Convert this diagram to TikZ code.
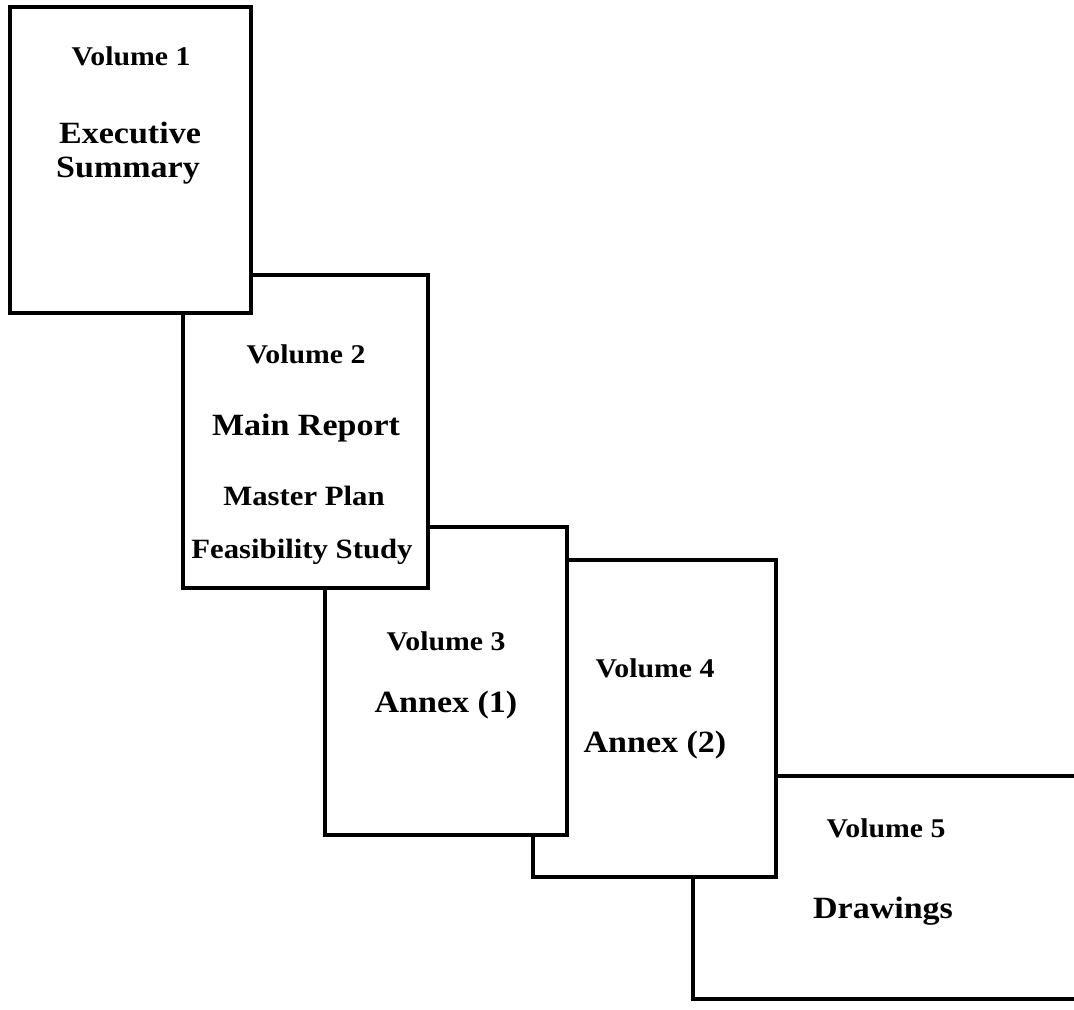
\documentclass[tikz,border=0pt]{standalone}
\usepackage{fontspec}
\newfontfamily\volfont{Liberation Serif}[FakeStretch=1.1]
\usepackage{tikz}

\begin{document}
\begin{tikzpicture}[x=0.02cm,y=-0.02cm,
  volbox/.style={draw,line width=2.6pt,fill=white,anchor=north west,inner sep=0pt,outer sep=0pt},
  vollabel/.style={font={\volfont\bfseries\fontsize{15.4}{18}\selectfont},anchor=base,inner sep=0pt},
  voltitle/.style={font={\volfont\bfseries\fontsize{17.6}{20}\selectfont},anchor=base,inner sep=0pt},
  volsub/.style={font={\volfont\bfseries\fontsize{15.9}{18}\selectfont},anchor=base,inner sep=0pt}]
\useasboundingbox (0,0) rectangle (1074,1009);
\clip (0,0) rectangle (1074,1009);
% stacked volumes, back to front
\foreach \i/\x/\y/\w/\h in {
  5/693/776/390/223,
  4/533/560/243/317,
  3/325/527/242/308,
  2/183/275/245/313,
  1/10/7/241/306}{
  \node[volbox,minimum width=\w*0.02cm,minimum height=\h*0.02cm] (V\i) at (\x,\y) {};
}
\foreach \i/\x/\y in {1/131/65,2/306/363,3/446/650,4/655/677,5/886/837}{
  \node[vollabel] (L\i) at (\x,\y) {Volume \i};
}
% titles
\node[voltitle] (E1) at (130,143) {Executive};
\node[voltitle] (S1) at (128,177) {Summary};
\node[voltitle] (M2) at (306,435) {Main Report};
\node[volsub] (P2) at (304,505) {Master Plan};
\node[volsub] (F2) at (302,558) {Feasibility Study};
\node[voltitle] (A3) at (446,712) {Annex (1)};
\node[voltitle] (A4) at (655,752) {Annex (2)};
\node[voltitle] (D5) at (883,918) {Drawings};
\end{tikzpicture}
\end{document}
